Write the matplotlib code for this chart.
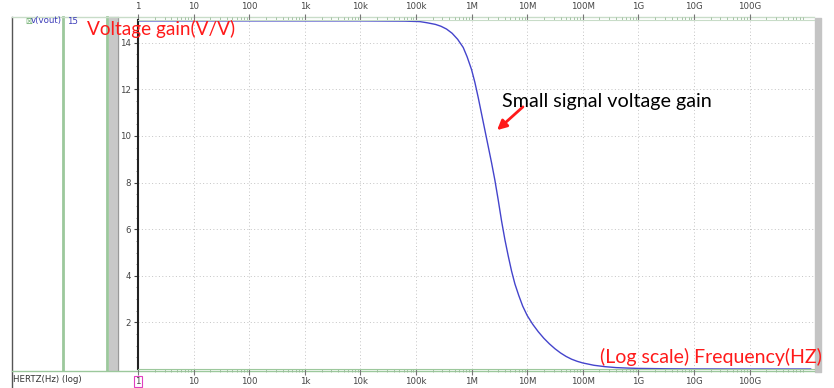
import numpy as np
import matplotlib.pyplot as plt
from matplotlib.ticker import FixedLocator, LogLocator, NullFormatter

plt.rcParams["font.family"] = ["DejaVu Sans"]

# log10(frequency) and gain (V/V)
log_freq = [0, 1, 2, 3, 4, 4.8, 5.07, 5.2, 5.35, 5.45, 5.55, 5.65, 5.75,
            5.85, 5.92, 6.0, 6.06, 6.12, 6.18, 6.24, 6.3, 6.36, 6.42, 6.48,
            6.54, 6.6, 6.66, 6.72, 6.78, 6.85, 6.92, 7.0, 7.1, 7.2, 7.3, 7.4,
            7.5, 7.6, 7.7, 7.8, 7.9, 8.0, 8.2, 8.4, 8.6, 8.8, 9.0, 9.5, 10.0,
            11.0, 12.1]
gain = [14.94, 14.94, 14.94, 14.94, 14.94, 14.93, 14.91, 14.86, 14.79, 14.71,
        14.59, 14.41, 14.15, 13.8, 13.4, 12.85, 12.3, 11.65, 10.95, 10.25,
        9.55, 8.85, 8.1, 7.25, 6.35, 5.55, 4.85, 4.2, 3.65, 3.15, 2.7, 2.3,
        1.92, 1.6, 1.32, 1.08, 0.87, 0.69, 0.54, 0.42, 0.33, 0.26, 0.16, 0.1,
        0.06, 0.04, 0.025, 0.01, 0.003, 0.0, 0.0]
freq = [10 ** v for v in log_freq]

tick_vals = [1, 10, 100, 1e3, 1e4, 1e5, 1e6, 1e7, 1e8, 1e9, 1e10, 1e11]
tick_labels = ["1", "10", "100", "1k", "10k", "100k", "1M", "10M", "100M",
               "1G", "10G", "100G"]
y_ticks = [2, 4, 6, 8, 10, 12, 14]

W, H = 834, 388
fig = plt.figure(figsize=(W / 100, H / 100), dpi=100)

# background layer in pixel coordinates for the simulator window chrome
bg = fig.add_axes([0, 0, 1, 1])
bg.set_xlim(0, W)
bg.set_ylim(H, 0)
bg.axis("off")
green = "#9cc89c"
bg.plot([12, 12], [17, 388], color="#555555", lw=1.0)
bg.plot([63, 63], [17, 370], color=green, lw=2.0)
bg.plot([107, 107], [17, 370], color=green, lw=2.0)
bg.fill_between([109, 118], 17, 370, color="#c8c8c8")
bg.plot([118, 118], [17, 370], color="#999999", lw=0.8)
bg.fill_between([815, 821], 18, 372, color="#c4c4c4")
bg.plot([12, 814], [17, 17], color="#c8dcc8", lw=1.0)
bg.plot([12, 814], [370.5, 370.5], color=green, lw=1.0)
bg.text(25, 21, "\u2612", color="#4a9a4a", fontsize=5.5, va="center")
bg.text(31, 21, "v(vout)", color="#3a3ab8", fontsize=6.2, va="center")
bg.text(67, 21, "15", color="#3a3ab8", fontsize=6.2, va="center")
bg.text(13, 380, "HERTZ(Hz) (log)", color="#333333", fontsize=6.2, va="center")

ax = fig.add_axes([138 / W, 1 - 369 / H, (814 - 138) / W, (369 - 19.5) / H])
ax.patch.set_alpha(0)
ax.plot(freq, gain, color="#4444cc", lw=1.0)
ax.set_xscale("log")
ax.set_xlim(1, 10 ** 12.16)
ax.set_ylim(0, 15)

ax.xaxis.set_major_locator(FixedLocator(tick_vals))
ax.set_xticks(tick_vals, tick_labels)
ax.xaxis.set_minor_locator(LogLocator(base=10, subs=np.arange(2, 10), numticks=100))
ax.xaxis.set_minor_formatter(NullFormatter())
ax.set_yticks(y_ticks)
ax.set_yticks(np.arange(0.5, 15, 0.5), minor=True)

ax.tick_params(axis="x", which="both", top=True, labeltop=True, bottom=True,
               labelbottom=True, direction="out", colors="#444444",
               labelsize=6.2, pad=2)
ax.tick_params(axis="x", which="major", length=4, color="#777777")
ax.tick_params(axis="x", which="minor", length=2, color="#99bb99")
ax.tick_params(axis="y", which="major", direction="out", length=3,
               labelsize=6.2, colors="#444444", pad=2)
ax.tick_params(axis="y", which="minor", direction="out", length=1.5,
               color="#777777")

ax.spines["left"].set_color("#222222")
ax.spines["left"].set_linewidth(1.5)
ax.spines["right"].set_visible(False)
ax.spines["top"].set_color("#c8dcc8")
ax.spines["bottom"].set_color(green)
ax.grid(True, which="major", linestyle=(0, (1, 2.5)), color="#c4c4c4", lw=0.7)

# bottom "1" label in a magenta box
lbl = ax.get_xticklabels()[0]
lbl.set_bbox(dict(facecolor="none", edgecolor="#e040c0", pad=0.8, lw=0.8))

font_ann = ["Lato", "DejaVu Sans"]
fig.text(87 / W, 1 - 29 / H, "Voltage gain(V/V)", color="#ff1a1a",
         fontsize=13.7, family=font_ann, va="center", ha="left")
fig.text(502 / W, 1 - 101 / H, "Small signal voltage gain", color="black",
         fontsize=14.2, family=font_ann, va="center", ha="left")
fig.text(822 / W, 1 - 357 / H, "(Log scale) Frequency(HZ)", color="#ff1a1a",
         fontsize=14, family=font_ann, va="center", ha="right")
bg.annotate("", xy=(495, 132), xytext=(525, 105),
            arrowprops=dict(arrowstyle="-|>", color="#ff1a1a", lw=2,
                            mutation_scale=14))

fig.savefig("out.png", dpi=100)
